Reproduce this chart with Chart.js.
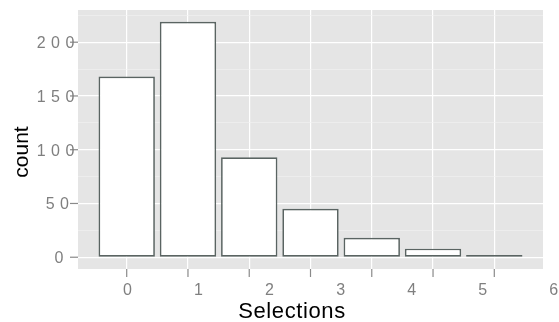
<!DOCTYPE html>
<html>
<head>
<meta charset="utf-8">
<script src="https://cdn.jsdelivr.net/npm/chart.js@4"></script>
<style>
  body { margin: 0; background: #fff; }
</style>
</head>
<body>
<canvas id="histChart" width="559" height="322"></canvas>
<script>
const selections = [0, 1, 2, 3, 4, 5, 6];
const counts = [168, 219, 93, 45, 18, 8, 2];
const xTicks = [0, 1, 2, 3, 4, 5, 6];
const yTicks = [0, 50, 100, 150, 200];
const yMinor = [25, 75, 125, 175, 225];

const FONT = '"Liberation Sans", Arial, sans-serif';

// ggplot-ish panel, ticks and labels drawn on top of the chart scales
const panelPlugin = {
  id: 'panel',
  beforeDraw(chart) {
    const { ctx, chartArea: a } = chart;
    ctx.save();
    ctx.fillStyle = '#e5e5e5';
    ctx.fillRect(a.left, a.top, a.right - a.left, a.bottom - a.top);
    ctx.restore();
  },
  afterDraw(chart) {
    const { ctx, chartArea: a, scales } = chart;
    const x = scales.x, y = scales.y;
    ctx.save();

    // tick marks
    ctx.strokeStyle = '#8a8a8a';
    ctx.lineWidth = 1.2;
    yTicks.forEach(v => {
      const py = y.getPixelForValue(v);
      ctx.beginPath();
      ctx.moveTo(a.left - 8, py);
      ctx.lineTo(a.left, py);
      ctx.stroke();
    });
    xTicks.forEach(v => {
      const px = x.getPixelForValue(v);
      ctx.beginPath();
      ctx.moveTo(px, a.bottom);
      ctx.lineTo(px, a.bottom + 8);
      ctx.stroke();
    });

    // tick labels (spaced out like the original render)
    ctx.fillStyle = '#7f7f7f';
    ctx.font = '16px ' + FONT;
    ctx.textBaseline = 'alphabetic';
    yTicks.forEach(v => {
      const s = String(v);
      const py = y.getPixelForValue(v);
      ctx.letterSpacing = '0px';
      const w = ctx.measureText(s).width;
      ctx.letterSpacing = '5.4px';
      ctx.textAlign = 'left';
      ctx.fillText(s, a.left - 14.5 - w, py + 5.8);
    });
    ctx.letterSpacing = '0px';
    const x0 = x.getPixelForValue(xTicks[0]);
    xTicks.forEach(v => {
      const px = x.getPixelForValue(v);
      ctx.textAlign = 'center';
      ctx.fillText(String(v), x0 + 0.7 + (px - x0) * 1.16, a.bottom + 26);
    });

    // axis titles
    ctx.fillStyle = '#000';
    ctx.font = '22px ' + FONT;
    ctx.letterSpacing = '0.6px';
    ctx.textAlign = 'center';
    ctx.fillText('Selections', (a.left + a.right) / 2 - 18.5, a.bottom + 48.7);
    ctx.letterSpacing = '0px';
    ctx.font = '21px ' + FONT;
    ctx.translate(27.7, (a.top + a.bottom) / 2 + 12.5);
    ctx.rotate(-Math.PI / 2);
    ctx.fillText('count', 0, 0);
    ctx.restore();
  }
};

document.addEventListener('DOMContentLoaded', () => {
  const ctx = document.getElementById('histChart').getContext('2d');

  new Chart(ctx, {
    type: 'bar',
    data: {
      datasets: [{
        label: 'count',
        data: selections.map((s, i) => ({ x: s, y: counts[i] })),
        backgroundColor: '#ffffff',
        borderColor: '#5a6462',
        borderWidth: 1.7,
        borderSkipped: false,
        barPercentage: 0.92,
        categoryPercentage: 1.0
      }]
    },
    options: {
      responsive: false,
      devicePixelRatio: 1,
      animation: false,
      layout: { padding: { left: 78, right: 16, top: 10, bottom: 53 } },
      plugins: {
        legend: { display: false },
        tooltip: { enabled: false }
      },
      scales: {
        x: {
          type: 'linear',
          min: -0.795,
          max: 6.795,
          offset: false,
          afterBuildTicks: scale => { scale.ticks = xTicks.map(v => ({ value: v })); },
          ticks: { display: false },
          border: { display: false },
          grid: { offset: false, color: '#ffffff', lineWidth: 1.2, drawTicks: false }
        },
        y: {
          min: -10.95,
          max: 229.95,
          afterBuildTicks: scale => {
            scale.ticks = yTicks.concat(yMinor).sort((a, b) => a - b).map(v => ({ value: v }));
          },
          ticks: { display: false },
          border: { display: false },
          grid: {
            drawTicks: false,
            color: c => (c.tick.value % 50 === 0 ? '#ffffff' : '#f2f2f2'),
            lineWidth: c => (c.tick.value % 50 === 0 ? 1.2 : 0.6)
          }
        }
      }
    },
    plugins: [panelPlugin]
  });
});
</script>
</body>
</html>
